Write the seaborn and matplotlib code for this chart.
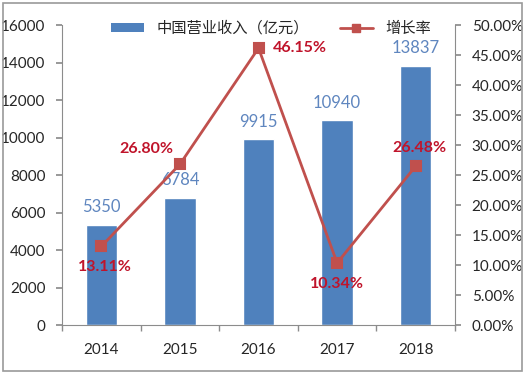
import matplotlib
matplotlib.use("Agg")
import matplotlib.pyplot as plt
import seaborn as sns
import pandas as pd
from matplotlib.patches import Rectangle, Patch
from matplotlib.lines import Line2D
from matplotlib.ticker import FuncFormatter, MultipleLocator

years = ["2014", "2015", "2016", "2017", "2018"]
revenue = [5350, 6784, 9915, 10940, 13837]
growth = [13.11, 26.80, 46.15, 10.34, 26.48]
bar_name = "中国营业收入（亿元）"
line_name = "增长率"

sns.set_theme(style="white")
plt.rcParams['font.family'] = ['Lato', 'Noto Sans CJK SC', 'DejaVu Sans']

BLUE = "#4F81BD"
RED = "#C0504D"
LBL_BLUE = "#5F86BF"
LBL_RED = "#C0142B"
GREY = "#8C8C8C"
TXT = "#262626"

df = pd.DataFrame({"year": years, "revenue": revenue, "growth": growth})

fig = plt.figure(figsize=(5.26, 3.75), dpi=100)
ax = fig.add_axes([0.118, 0.1333, 0.747, 0.80])
sns.barplot(data=df, x="year", y="revenue", color=BLUE, width=0.4, saturation=1, ax=ax)
ax.set_ylim(0, 16000)
ax.set_xlim(-0.5, 4.5)
ax.yaxis.set_major_locator(MultipleLocator(2000))
ax.set_xlabel("")
ax.set_ylabel("")
for s in ["top", "right"]:
    ax.spines[s].set_visible(False)
for s in ["left", "bottom"]:
    ax.spines[s].set_color(GREY)
    ax.spines[s].set_linewidth(0.8)
ax.tick_params(axis="y", left=True, length=4, color=GREY, labelsize=11, labelcolor=TXT, pad=8)
ax.set_xticks([-0.5, 0.5, 1.5, 2.5, 3.5, 4.5], minor=True)
ax.tick_params(axis="x", which="major", bottom=False, labelsize=11, labelcolor=TXT, pad=7)
ax.tick_params(axis="x", which="minor", bottom=True, length=4, color=GREY)

for i, v in enumerate(revenue):
    ax.text(i, v + 500, str(v), ha="center", va="bottom", color=LBL_BLUE,
            fontsize=12)

ax2 = ax.twinx()
sns.pointplot(data=df, x="year", y="growth", color=RED, markers="s", linestyles="-",
              ax=ax2, markersize=7, linewidth=2)
ax2.set_ylim(0, 50)
ax2.set_xlim(-0.5, 4.5)
ax2.yaxis.set_major_locator(MultipleLocator(5))
ax2.yaxis.set_major_formatter(FuncFormatter(lambda v, p: f"{v:.2f}%"))
ax2.set_ylabel("")
ax2.set_xlabel("")
for s in ["top", "left", "bottom"]:
    ax2.spines[s].set_visible(False)
ax2.spines["right"].set_color(GREY)
ax2.spines["right"].set_linewidth(0.8)
ax2.tick_params(axis="y", right=True, length=4, color=GREY, labelsize=11, labelcolor=TXT, pad=8)

offsets = [(0.05, -2.3, "center", "top"),
           (-0.08, 1.3, "right", "bottom"),
           (0.18, 0.0, "left", "center"),
           (0.0, -2.3, "center", "top"),
           (0.05, 1.8, "center", "bottom")]
for i, (g, (dx, dy, ha, va)) in enumerate(zip(growth, offsets)):
    ax2.text(i + dx, g + dy, f"{g:.2f}%", ha=ha, va=va, color=LBL_RED,
             fontsize=11.5, fontweight="bold")

handles = [Patch(facecolor=BLUE, edgecolor="none"),
           Line2D([0], [0], color=RED, lw=2, marker="s", markersize=6)]
fig.legend(handles, [bar_name, line_name], loc="center", bbox_to_anchor=(0.515, 0.925),
           ncol=2, frameon=False, handlelength=2.2, columnspacing=2.0,
           handleheight=0.5, labelcolor=TXT, prop={'family': ['Noto Sans CJK SC'], 'size': 11})

fig.patches.append(Rectangle((0.006, 0.011), 0.987, 0.982, transform=fig.transFigure,
                             fill=False, edgecolor="#9A9A9A", linewidth=1.2))

fig.savefig("out.png", dpi=100)
